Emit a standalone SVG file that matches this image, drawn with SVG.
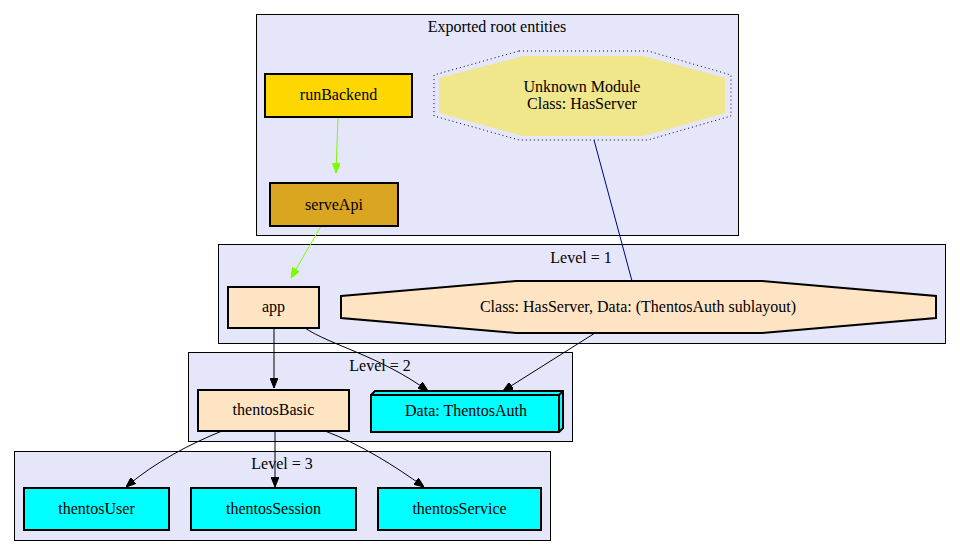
<svg xmlns="http://www.w3.org/2000/svg" width="960" height="554" viewBox="0 0 960 554">
<defs>
<style>
.cl{fill:#e6e6fa;stroke:#000;stroke-width:1}
.n{stroke:#000;stroke-width:2}
text{font-family:"Liberation Serif","Times New Roman",serif;font-size:16px;fill:#000;text-anchor:middle}
.e{fill:none;stroke:#000;stroke-width:1}
</style>
<marker id="ab" markerWidth="10" markerHeight="8" refX="10" refY="4" orient="auto" markerUnits="userSpaceOnUse"><path d="M0,0L10,4L0,8z" fill="#000" stroke="#000"/></marker>
<marker id="ag" markerWidth="10" markerHeight="8" refX="10" refY="4" orient="auto" markerUnits="userSpaceOnUse"><path d="M0,0L10,4L0,8z" fill="#7cfc00" stroke="#7cfc00"/></marker>
</defs>
<rect width="960" height="554" fill="#fff"/>
<g id="clusters">
<rect class="cl" x="256.5" y="14.5" width="482" height="221"/>
<text x="497" y="32">Exported root entities</text>
<rect class="cl" x="218.5" y="244.5" width="727" height="99"/>
<text x="581" y="263">Level = 1</text>
<rect class="cl" x="188.5" y="352.5" width="384" height="89"/>
<text x="380" y="371">Level = 2</text>
<rect class="cl" x="14.5" y="451.5" width="536" height="89"/>
<text x="282" y="469">Level = 3</text>
</g>
<g id="connectors">
<path d="M338,117L336,173" stroke="#7cfc00" fill="none" marker-end="url(#ag)"/>
<path d="M594,140L632,281" stroke="#000080" fill="none"/>
<path d="M321,226L291,278" stroke="#7cfc00" fill="none" marker-end="url(#ag)"/>
<path class="e" d="M274,328L274,388" marker-end="url(#ab)"/>
<path class="e" d="M305,328C330,345 380,356 428,391" marker-end="url(#ab)"/>
<path class="e" d="M595,333L503,391" marker-end="url(#ab)"/>
<path class="e" d="M222,431C190,444 155,462 126,487" marker-end="url(#ab)"/>
<path class="e" d="M275,431L275,487" marker-end="url(#ab)"/>
<path class="e" d="M325,431C360,444 395,466 424,487" marker-end="url(#ab)"/>
</g>
<g id="runBackend"><rect class="n" x="265" y="74" width="147" height="43" fill="#ffd700"/><text x="338.5" y="100">runBackend</text></g>
<g id="serveApi"><rect class="n" x="270" y="183" width="128" height="43" fill="#daa520"/><text x="334" y="210">serveApi</text></g>
<g id="unknown">
<polygon points="519,51 648,51 731,75 731,116 648,140 519,140 434,116 434,75" fill="none" stroke="#000" stroke-width="1" stroke-dasharray="1,3"/>
<polygon points="523,56 644,56 725,78 725,113 644,136 523,136 439,113 439,78" fill="#f0e68c"/>
<text x="582" y="92">Unknown Module</text>
<text x="582" y="109">Class: HasServer</text>
</g>
<g id="app"><rect class="n" x="228" y="287" width="91" height="41" fill="#ffe4c4"/><text x="273.5" y="312">app</text></g>
<g id="classHasServer"><polygon class="n" points="341,296 516,281 762,281 936,296 936,318 762,333 516,333 341,318" fill="#ffe4c4"/><text x="638" y="312">Class: HasServer, Data: (ThentosAuth sublayout)</text></g>
<g id="thentosBasic"><rect class="n" x="198" y="390" width="151" height="41" fill="#ffe4c4"/><text x="273.5" y="415">thentosBasic</text></g>
<g id="dataThentosAuth">
<path class="n" d="M371,395L375,391L563,391L563,428L559,432L371,432Z" fill="#00ffff"/>
<path class="n" d="M371,395L559,395L559,432M559,395L563,391" fill="none"/>
<text x="466" y="416">Data: ThentosAuth</text>
</g>
<g id="thentosUser"><rect class="n" x="24" y="488" width="145" height="42" fill="#00ffff"/><text x="96.5" y="514">thentosUser</text></g>
<g id="thentosSession"><rect class="n" x="191" y="488" width="165" height="42" fill="#00ffff"/><text x="273.5" y="514">thentosSession</text></g>
<g id="thentosService"><rect class="n" x="378" y="488" width="163" height="42" fill="#00ffff"/><text x="459.5" y="514">thentosService</text></g>
</svg>
